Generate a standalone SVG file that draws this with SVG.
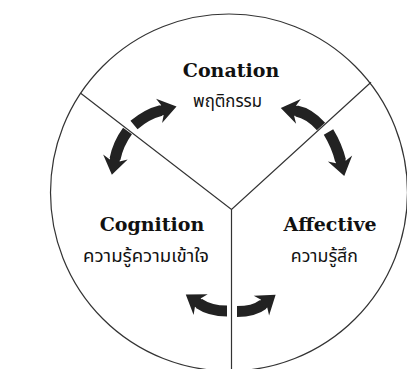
<svg xmlns="http://www.w3.org/2000/svg" width="407" height="369" viewBox="0 0 407 369">
<style>
.line{fill:none;stroke:#333;stroke-width:1.2}
.arr{fill:none;stroke:#222;stroke-width:11;stroke-linecap:butt}
.en{font-family:"DejaVu Serif",serif;font-weight:bold;font-size:19px;fill:#111;text-anchor:middle}
.th{font-family:"Noto Sans Thai","Noto Sans",sans-serif;font-size:18px;fill:#111;text-anchor:middle}
</style>
<defs>
<marker id="head" markerUnits="userSpaceOnUse" viewBox="-10 -20 40 40" markerWidth="40" markerHeight="40" refX="0" refY="0" orient="auto">
<path d="M16 0 L-2 -12.5 L1.5 -5 L-1 -5 L-1 5 L1.5 5 L-2 12.5 Z" fill="#222"/>
</marker>
</defs>
<rect width="407" height="369" fill="#fff"/>
<g id="frame">
<circle class="line" cx="229" cy="192.5" r="178.5"/>
<path class="line" d="M80.7 93.3 L231.5 209.5 L371 82.3 M231.5 209.5 L231.5 372"/>
</g>
<g id="conation">
<text class="en" x="231" y="77">Conation</text>
<text class="th" x="227.5" y="107" textLength="69" lengthAdjust="spacingAndGlyphs">พฤติกรรม</text>
</g>
<g id="cognition">
<text class="en" x="152" y="231">Cognition</text>
<text class="th" x="146" y="262" textLength="126" lengthAdjust="spacingAndGlyphs">ความรู้ความเข้าใจ</text>
</g>
<g id="affective">
<text class="en" x="330" y="231">Affective</text>
<text class="th" x="324.3" y="262" textLength="67" lengthAdjust="spacingAndGlyphs">ความรู้สึก</text>
</g>
<g id="connectors">
<path class="arr" marker-end="url(#head)" d="M134 125 Q147 114 161 110.5"/>
<path class="arr" marker-end="url(#head)" d="M127.5 131 Q118 144 115 159"/>
<path class="arr" marker-end="url(#head)" d="M321 126.5 Q309.5 113.5 296.5 111"/>
<path class="arr" marker-end="url(#head)" d="M328.5 132 Q337 146 340.5 160.5"/>
<path class="arr" marker-end="url(#head)" d="M227 311 Q210 311 199 303.5"/>
<path class="arr" marker-end="url(#head)" d="M237 311.5 Q254 311.5 263 304.5"/>
</g>
</svg>
